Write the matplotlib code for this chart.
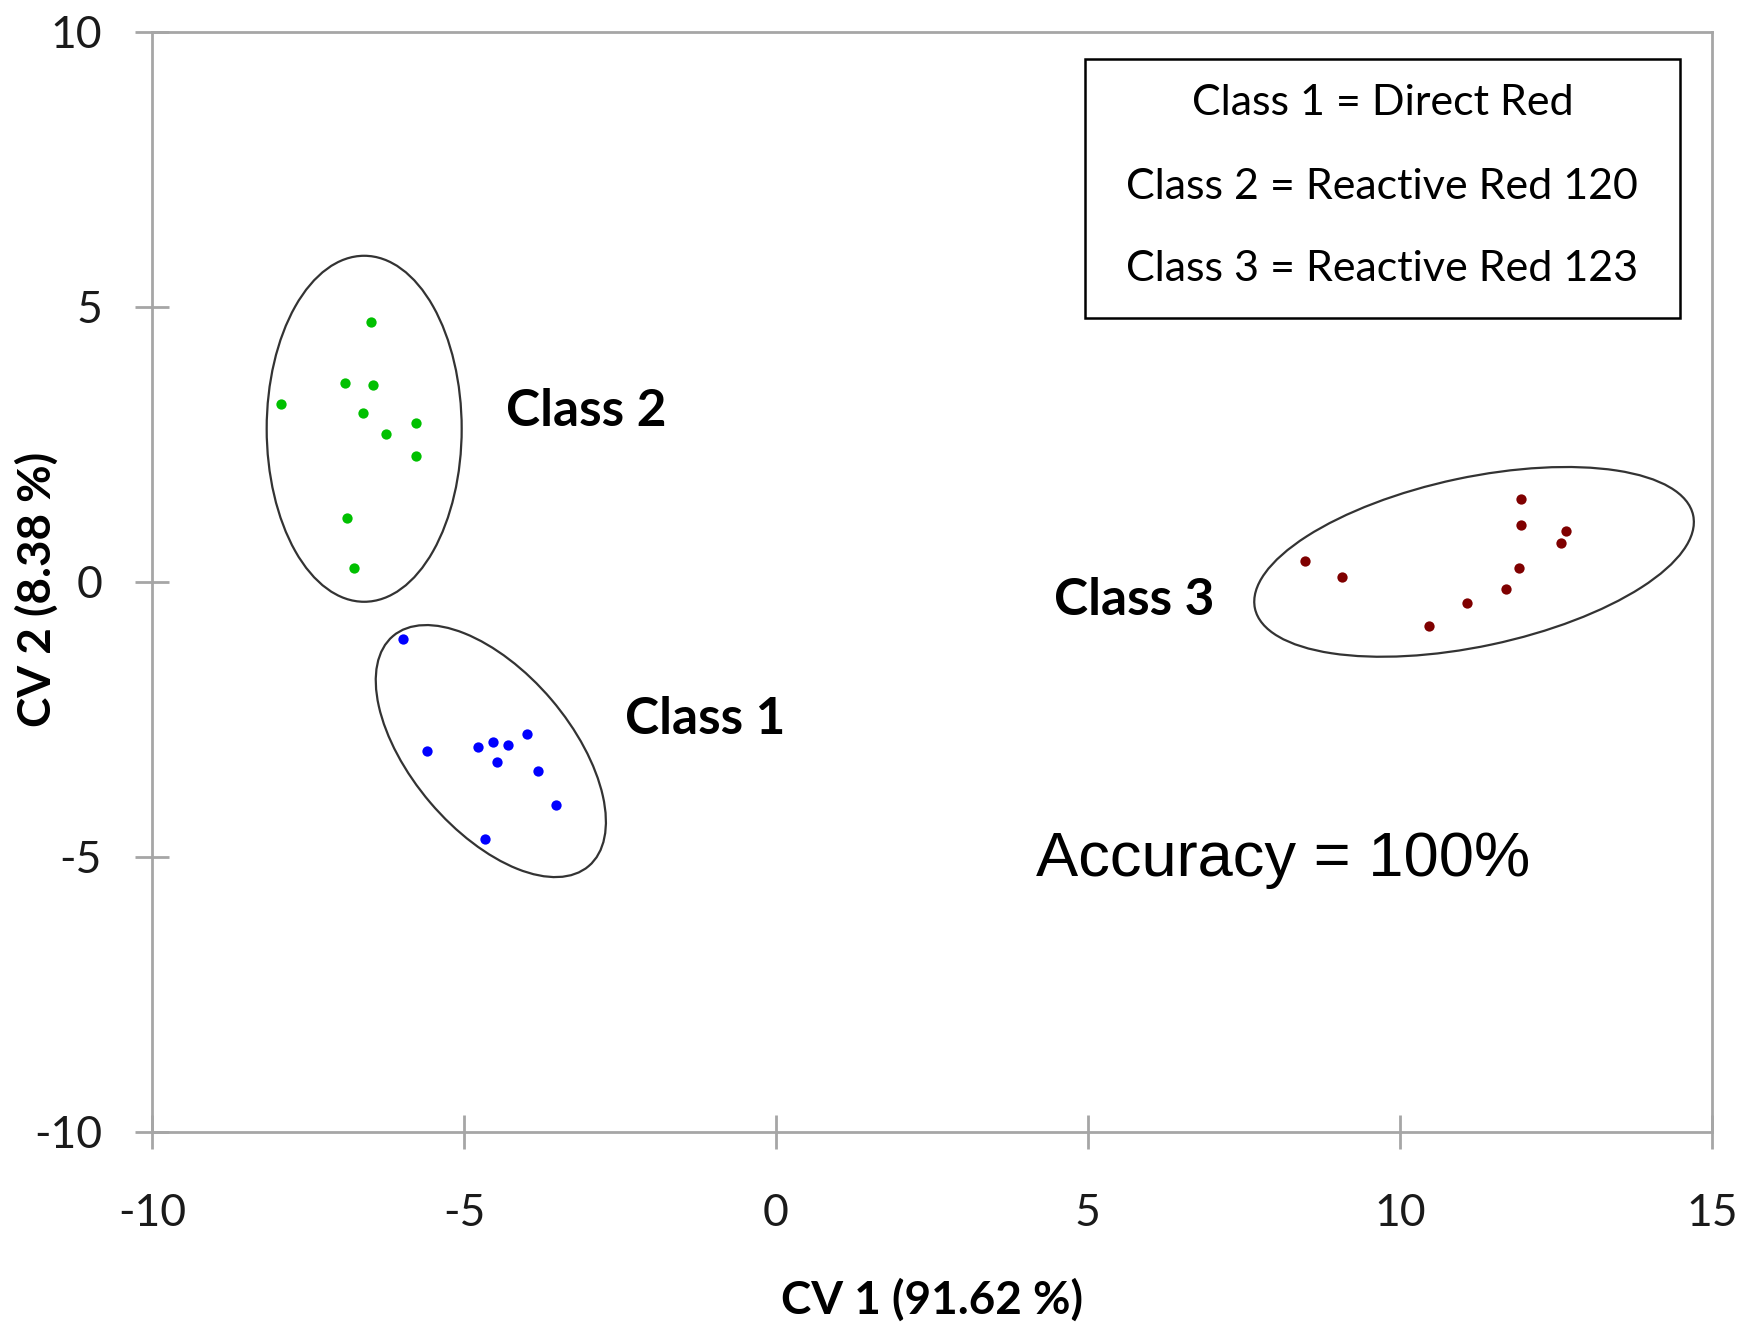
import matplotlib
matplotlib.use("Agg")
import matplotlib.pyplot as plt
from matplotlib.patches import Ellipse, Rectangle
from matplotlib.transforms import ScaledTranslation

# Class 1 (Direct Red)
class1_x = [-5.98, -5.59, -4.78, -4.54, -4.29, -3.99, -4.47, -3.81, -3.53, -4.67]
class1_y = [-1.05, -3.08, -3.00, -2.92, -2.97, -2.77, -3.28, -3.44, -4.06, -4.68]

# Class 2 (Reactive Red 120)
class2_x = [-6.49, -6.90, -6.46, -7.93, -6.62, -5.77, -6.25, -5.77, -6.88, -6.76]
class2_y = [4.72, 3.62, 3.58, 3.23, 3.07, 2.88, 2.68, 2.29, 1.16, 0.25]

# Class 3 (Reactive Red 123)
class3_x = [11.95, 11.95, 12.67, 12.59, 8.48, 9.07, 11.91, 11.70, 11.08, 10.46]
class3_y = [1.50, 1.03, 0.92, 0.71, 0.38, 0.09, 0.25, -0.14, -0.38, -0.81]

x_ticks = [-10, -5, 0, 5, 10, 15]
y_ticks = [-10, -5, 0, 5, 10]

legend_lines = ["Class 1 = Direct Red",
                "Class 2 = Reactive Red 120",
                "Class 3 = Reactive Red 123"]

plt.rcParams['font.family'] = ['Lato', 'DejaVu Sans']
plt.rcParams['axes.unicode_minus'] = False

fig = plt.figure(figsize=(17.56, 13.25), dpi=100)
ax = fig.add_axes([0.0866, 0.1459, 0.8882, 0.8302])

ax.scatter(class1_x, class1_y, s=55, color='#0000ff', zorder=3, linewidths=0)
ax.scatter(class2_x, class2_y, s=55, color='#00c000', zorder=3, linewidths=0)
ax.scatter(class3_x, class3_y, s=55, color='#7f0000', zorder=3, linewidths=0)

ax.set_xlim(-10, 15)
ax.set_ylim(-10, 10)
ax.set_xticks(x_ticks)
ax.set_yticks(y_ticks)

for sp in ax.spines.values():
    sp.set_color('#a6a6a6')
    sp.set_linewidth(2)

ax.tick_params(axis='both', direction='inout', length=24, width=2,
               color='#a6a6a6', labelsize=32, labelcolor='#1a1a1a')
ax.tick_params(axis='y', pad=24)
ax.tick_params(axis='x', pad=32)

# ellipses around classes (sizes in inches on screen, centre in data)
ellipses = [
    ((-6.60, 2.78), 1.95, 3.46, 0),
    ((-4.57, -3.08), 3.02, 1.59, -49.6),
    ((11.19, 0.36), 4.48, 1.69, 12.0),
]
for (cx, cy), w, h, ang in ellipses:
    e = Ellipse((0, 0), w, h, angle=ang, fill=False, edgecolor='#333333',
                linewidth=1.6,
                transform=fig.dpi_scale_trans + ScaledTranslation(cx, cy, ax.transData))
    ax.add_patch(e)

ax.text(-4.33, 3.1, "Class 2", fontsize=37, fontweight='bold', va='center', ha='left')
ax.text(-2.42, -2.51, "Class 1", fontsize=37, fontweight='bold', va='center', ha='left')
ax.text(4.46, -0.35, "Class 3", fontsize=37, fontweight='bold', va='center', ha='left')

ax.text(4.17, -5.06, "Accuracy = 100%", fontsize=45.5, family='Liberation Sans',
        va='center', ha='left')

# text box in the upper right
ax.add_patch(Rectangle((0.598, 0.7397), 0.3815, 0.2351, transform=ax.transAxes,
                       fill=False, edgecolor='black', linewidth=1.8))
for yy, line in zip([0.9356, 0.8591, 0.7843], legend_lines):
    ax.text(0.7888, yy, line, transform=ax.transAxes, fontsize=31,
            ha='center', va='center')

ax.set_xlabel("CV 1 (91.62 %)", fontsize=33, fontweight='bold')
ax.set_ylabel("CV 2 (8.38 %)", fontsize=33, fontweight='bold')
ax.xaxis.set_label_coords(0.5, -0.133)
ax.yaxis.set_label_coords(-0.060, 0.493)

fig.savefig("out.png", dpi=100)
